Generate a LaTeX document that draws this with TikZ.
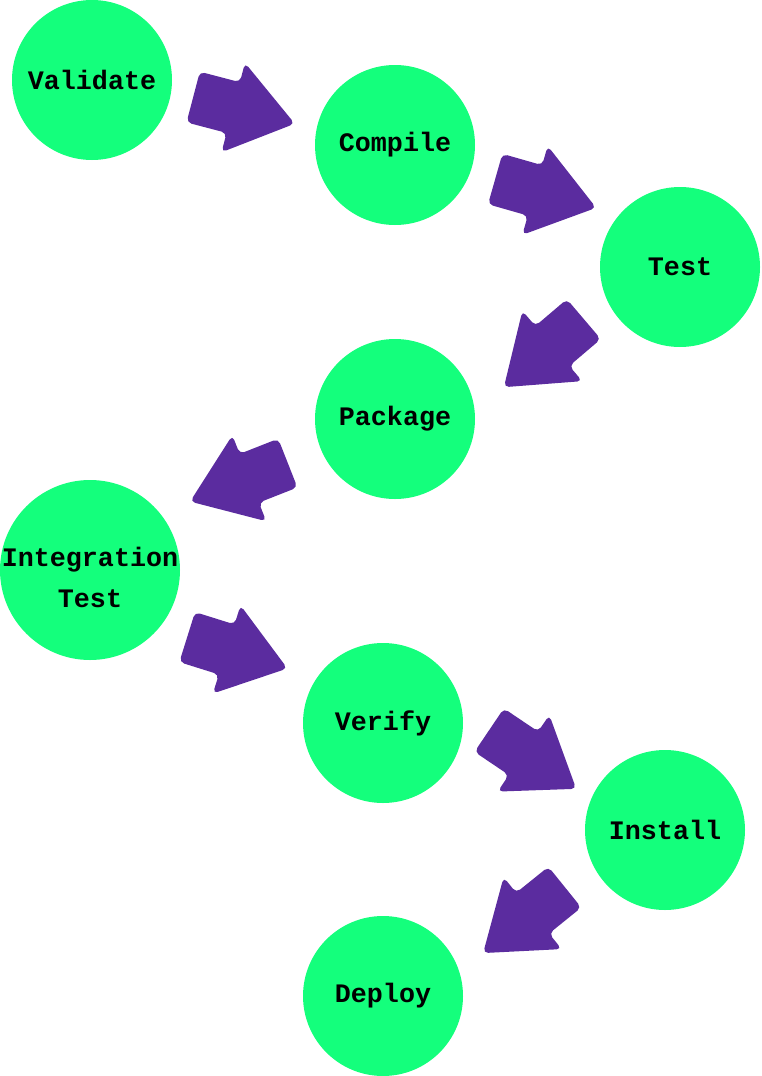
\documentclass[tikz,border=0pt]{standalone}
\usepackage{fontspec}
\setmonofont{Liberation Mono}
\usetikzlibrary{shapes.arrows}
\definecolor{stagegreen}{HTML}{14FF7C}
\definecolor{flowpurple}{HTML}{5B2C9F}
\tikzstyle{stagetext}=[align=center,font=\ttfamily\bfseries\fontsize{26.7}{41}\selectfont]
\tikzstyle{stage}=[circle,fill=stagegreen,minimum size=160pt,inner sep=0pt,stagetext]
\tikzstyle{flow}=[single arrow,fill=flowpurple,anchor=tail,minimum height=105pt,inner xsep=0pt,inner ysep=26pt,single arrow head extend=20pt,single arrow tip angle=72,rounded corners=5pt]

\begin{document}
\begin{tikzpicture}[x=1pt,y=-1pt]
\useasboundingbox (0,0) rectangle (761,1076);
% stages
\node [stage] (validate) at (92,80) {Validate};
\node [stage] (compile) at (395,145) {Compile};
\node [stage] (test) at (680,267) {Test};
\node [stage] (package) at (395,419) {Package};
\node [stage,minimum size=180pt,label={[stagetext,yshift=-7pt]center:{Integration\\Test}}] (itest) at (90,570) {};
\node [stage] (verify) at (383,723) {Verify};
\node [stage] (install) at (665,830) {Install};
\node [stage] (deploy) at (383,996) {Deploy};
% arrows between the stages
\node [flow,rotate=-14.7] (validate-compile) at (193,97) {};
\node [flow,rotate=-15.9] (compile-test) at (495,179) {};
\node [flow,rotate=-139.6] (test-package) at (584,319) {};
\node [flow,rotate=-158.5] (package-itest) at (288,463) {};
\node [flow,rotate=-17.4] (itest-verify) at (187,637) {};
\node [flow,rotate=-34] (verify-install) at (489,730) {};
\node [flow,rotate=-141.1] (install-deploy) at (565,887) {};
\end{tikzpicture}
\end{document}
